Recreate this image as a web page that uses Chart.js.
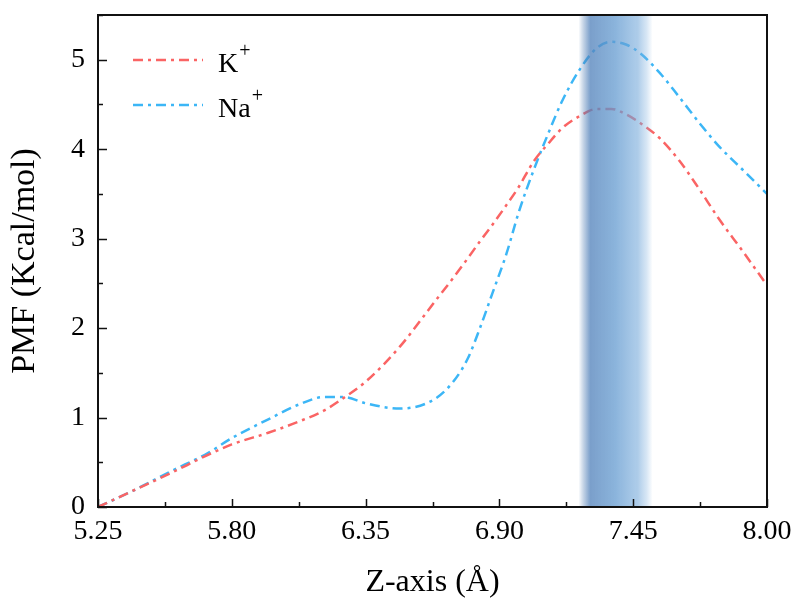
<!DOCTYPE html>
<html>
<head>
<meta charset="utf-8">
<script src="https://cdn.jsdelivr.net/npm/chart.js@4.4.0/dist/chart.umd.min.js"></script>
<style>
  html, body { margin: 0; padding: 0; background: #fff; }
  #wrap { width: 796px; height: 599px; }
</style>
</head>
<body>
<div id="wrap"><canvas id="pmf"></canvas></div>
<script>
// Z position (Å)
const zAxis = [5.25, 5.40, 5.55, 5.70, 5.80, 5.95, 6.08, 6.18, 6.26, 6.35, 6.49, 6.63, 6.71, 6.77, 6.82, 6.87,
  6.93, 6.98, 7.04, 7.10, 7.16, 7.23, 7.30, 7.36, 7.42, 7.48, 7.56, 7.64, 7.72, 7.80, 7.90, 8.00];
// PMF (Kcal/mol)
const pmfK = [0, 0.19, 0.38, 0.58, 0.70, 0.83, 0.96, 1.08, 1.22, 1.40, 1.79, 2.28, 2.56, 2.78, 2.97, 3.15,
  3.38, 3.58, 3.86, 4.06, 4.24, 4.37, 4.45, 4.45, 4.39, 4.29, 4.12, 3.87, 3.56, 3.23, 2.86, 2.48];
const pmfNa = [0, 0.19, 0.40, 0.60, 0.77, 0.98, 1.15, 1.23, 1.23, 1.16, 1.10, 1.20, 1.40, 1.66, 2.00, 2.38,
  2.84, 3.30, 3.76, 4.17, 4.55, 4.89, 5.13, 5.20, 5.17, 5.07, 4.85, 4.58, 4.30, 4.04, 3.77, 3.50];

const xTicks = [5.25, 5.80, 6.35, 6.90, 7.45, 8.00];
const yTicks = [0, 1, 2, 3, 4, 5];
const bandRange = [7.225, 7.53];
const seriesNames = ['K', 'Na'];

const serif = "'Liberation Serif', 'Times New Roman', serif";
const colors = ['#fa6464', '#3cb6f6'];
const dash = [10, 5, 3, 5];

const toPoints = ys => zAxis.map((z, i) => ({ x: z, y: ys[i] }));

const decorations = {
  id: 'decorations',
  afterDatasetsDraw(chart) {
    const { ctx, chartArea: a, scales: { x } } = chart;
    const x0 = x.getPixelForValue(bandRange[0]);
    const x1 = x.getPixelForValue(bandRange[1]);
    const g = ctx.createLinearGradient(x0, 0, x1, 0);
    g.addColorStop(0, 'rgba(80,125,180,0)');
    g.addColorStop(0.06, 'rgba(80,125,180,0.3)');
    g.addColorStop(0.16, 'rgba(85,132,188,0.78)');
    g.addColorStop(0.5, 'rgba(100,155,208,0.75)');
    g.addColorStop(0.8, 'rgba(115,168,218,0.58)');
    g.addColorStop(0.92, 'rgba(125,175,222,0.3)');
    g.addColorStop(1, 'rgba(125,175,222,0)');
    ctx.save();
    ctx.fillStyle = g;
    ctx.fillRect(x0, a.top, x1 - x0, a.bottom - a.top);
    ctx.restore();
  },
  afterDraw(chart) {
    const { ctx, chartArea: a, scales: { x, y } } = chart;
    ctx.save();
    ctx.strokeStyle = '#111';
    ctx.lineWidth = 1.5;
    // inward ticks, major + minor
    ctx.beginPath();
    xTicks.forEach((v, i) => {
      const px = Math.round(x.getPixelForValue(v)) + 0.5;
      ctx.moveTo(px, a.bottom); ctx.lineTo(px, a.bottom - 8);
      if (i < xTicks.length - 1) {
        const mx = Math.round(x.getPixelForValue((v + xTicks[i + 1]) / 2)) + 0.5;
        ctx.moveTo(mx, a.bottom); ctx.lineTo(mx, a.bottom - 5);
      }
    });
    yTicks.forEach(v => {
      const py = Math.round(y.getPixelForValue(v)) + 0.5;
      ctx.moveTo(a.left, py); ctx.lineTo(a.left + 9, py);
      const my = Math.round(y.getPixelForValue(v + 0.5)) + 0.5;
      ctx.moveTo(a.left, my); ctx.lineTo(a.left + 5, my);
    });
    ctx.stroke();
    // frame
    ctx.lineWidth = 2;
    ctx.strokeStyle = '#111';
    ctx.strokeRect(a.left, a.top, a.right - a.left, a.bottom - a.top);

    // legend
    const rows = [60, 105];
    seriesNames.forEach((name, i) => {
      const ly = rows[i];
      ctx.beginPath();
      ctx.setLineDash(dash);
      ctx.lineWidth = 2.5;
      ctx.strokeStyle = colors[i];
      ctx.moveTo(133, ly); ctx.lineTo(203, ly);
      ctx.stroke();
      ctx.setLineDash([]);
      ctx.fillStyle = '#000';
      ctx.textBaseline = 'alphabetic';
      ctx.textAlign = 'left';
      ctx.font = '28px ' + serif;
      ctx.fillText(name, 218, ly + 12);
      const w = ctx.measureText(name).width;
      ctx.font = '20px ' + serif;
      ctx.fillText('+', 218 + w + 1, ly - 3);
    });
    ctx.restore();
  }
};

const ctx = document.getElementById('pmf').getContext('2d');
new Chart(ctx, {
  type: 'line',
  data: {
    datasets: [pmfK, pmfNa].map((ys, i) => ({
      label: seriesNames[i] + '+',
      data: toPoints(ys),
      borderColor: colors[i],
      borderWidth: 2.5,
      borderDash: dash,
      pointRadius: 0,
      fill: false,
      cubicInterpolationMode: 'monotone'
    }))
  },
  options: {
    responsive: true,
    maintainAspectRatio: false,
    animation: false,
    devicePixelRatio: 1,
    layout: { padding: { left: 0, right: 29, top: 15, bottom: 0 } },
    plugins: { legend: { display: false }, tooltip: { enabled: false } },
    scales: {
      x: {
        type: 'linear',
        min: 5.25,
        max: 8.0,
        afterBuildTicks: s => { s.ticks = xTicks.map(v => ({ value: v })); },
        afterFit: s => { s.height = 92; s.paddingLeft = 0; s.paddingRight = 0; },
        grid: { display: false, drawTicks: false },
        border: { display: false },
        ticks: {
          autoSkip: false,
          maxRotation: 0,
          padding: 8,
          color: '#000',
          font: { family: serif, size: 28 },
          callback: v => Number(v).toFixed(2)
        },
        title: {
          display: true,
          text: 'Z-axis (Å)',
          color: '#000',
          font: { family: serif, size: 32, lineHeight: 1 },
          padding: { top: 0, bottom: 0 }
        }
      },
      y: {
        min: 0,
        max: 5.5,
        afterBuildTicks: s => { s.ticks = yTicks.map(v => ({ value: v })); },
        afterFit: s => { s.width = 98; s.paddingTop = 0; s.paddingBottom = 0; },
        grid: { display: false, drawTicks: false },
        border: { display: false },
        ticks: {
          padding: 13,
          color: '#000',
          font: { family: serif, size: 28 },
          callback: v => String(v)
        },
        title: {
          display: true,
          text: 'PMF (Kcal/mol)',
          color: '#000',
          font: { family: serif, size: 34, lineHeight: 1 },
          padding: { top: 8, bottom: 0 }
        }
      }
    }
  },
  plugins: [decorations]
});
</script>
</body>
</html>
